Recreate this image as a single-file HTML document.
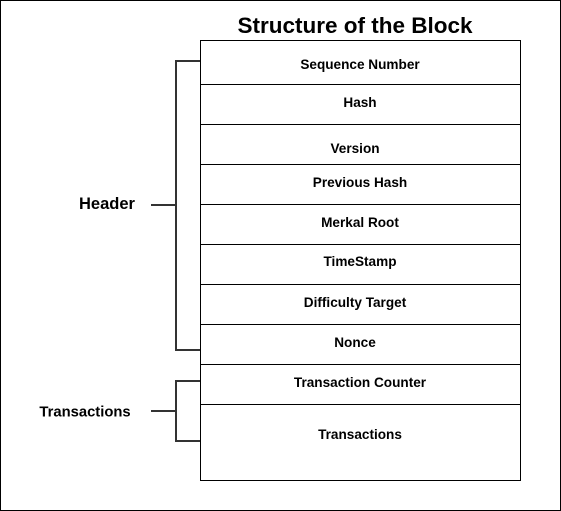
<!DOCTYPE html>
<html><head><meta charset="utf-8"><style>
html,body{margin:0;padding:0;background:#fff;}
svg{display:block;}
text{font-family:"Liberation Sans",Arial,sans-serif;font-weight:bold;fill:#000;}
</style></head><body>
<svg width="561" height="511" viewBox="0 0 561 511" xmlns="http://www.w3.org/2000/svg">
<rect x="0.5" y="0.5" width="560" height="510" fill="#fff" stroke="#000" stroke-width="1"/>
<text x="355" y="33" font-size="22.5" text-anchor="middle">Structure of the Block</text>
<rect x="200.5" y="40.5" width="320" height="440" fill="#fff" stroke="#000" stroke-width="1"/>
<g stroke="#000" stroke-width="1">
<line x1="200" y1="84.5" x2="520" y2="84.5"/>
<line x1="200" y1="124.5" x2="520" y2="124.5"/>
<line x1="200" y1="164.5" x2="520" y2="164.5"/>
<line x1="200" y1="204.5" x2="520" y2="204.5"/>
<line x1="200" y1="244.5" x2="520" y2="244.5"/>
<line x1="200" y1="284.5" x2="520" y2="284.5"/>
<line x1="200" y1="324.5" x2="520" y2="324.5"/>
<line x1="200" y1="364.5" x2="520" y2="364.5"/>
<line x1="200" y1="404.5" x2="520" y2="404.5"/>
</g>
<g font-size="13.6" text-anchor="middle">
<text x="360" y="69">Sequence Number</text>
<text x="360" y="107">Hash</text>
<text x="355" y="153">Version</text>
<text x="360" y="187">Previous Hash</text>
<text x="360" y="227">Merkal Root</text>
<text x="360" y="266">TimeStamp</text>
<text x="355" y="307">Difficulty Target</text>
<text x="355" y="347">Nonce</text>
<text x="360" y="387">Transaction Counter</text>
<text x="360" y="439">Transactions</text>
</g>
<g fill="none" stroke="#333" stroke-width="2">
<polyline points="200,61 176,61 176,350 200,350"/>
<line x1="151" y1="205" x2="176" y2="205"/>
<polyline points="200,381 176,381 176,441 200,441"/>
<line x1="151" y1="411" x2="176" y2="411"/>
</g>
<text x="107" y="209" font-size="16.5" text-anchor="middle">Header</text>
<text x="85" y="416.5" font-size="14.8" text-anchor="middle">Transactions</text>
</svg>
</body></html>
